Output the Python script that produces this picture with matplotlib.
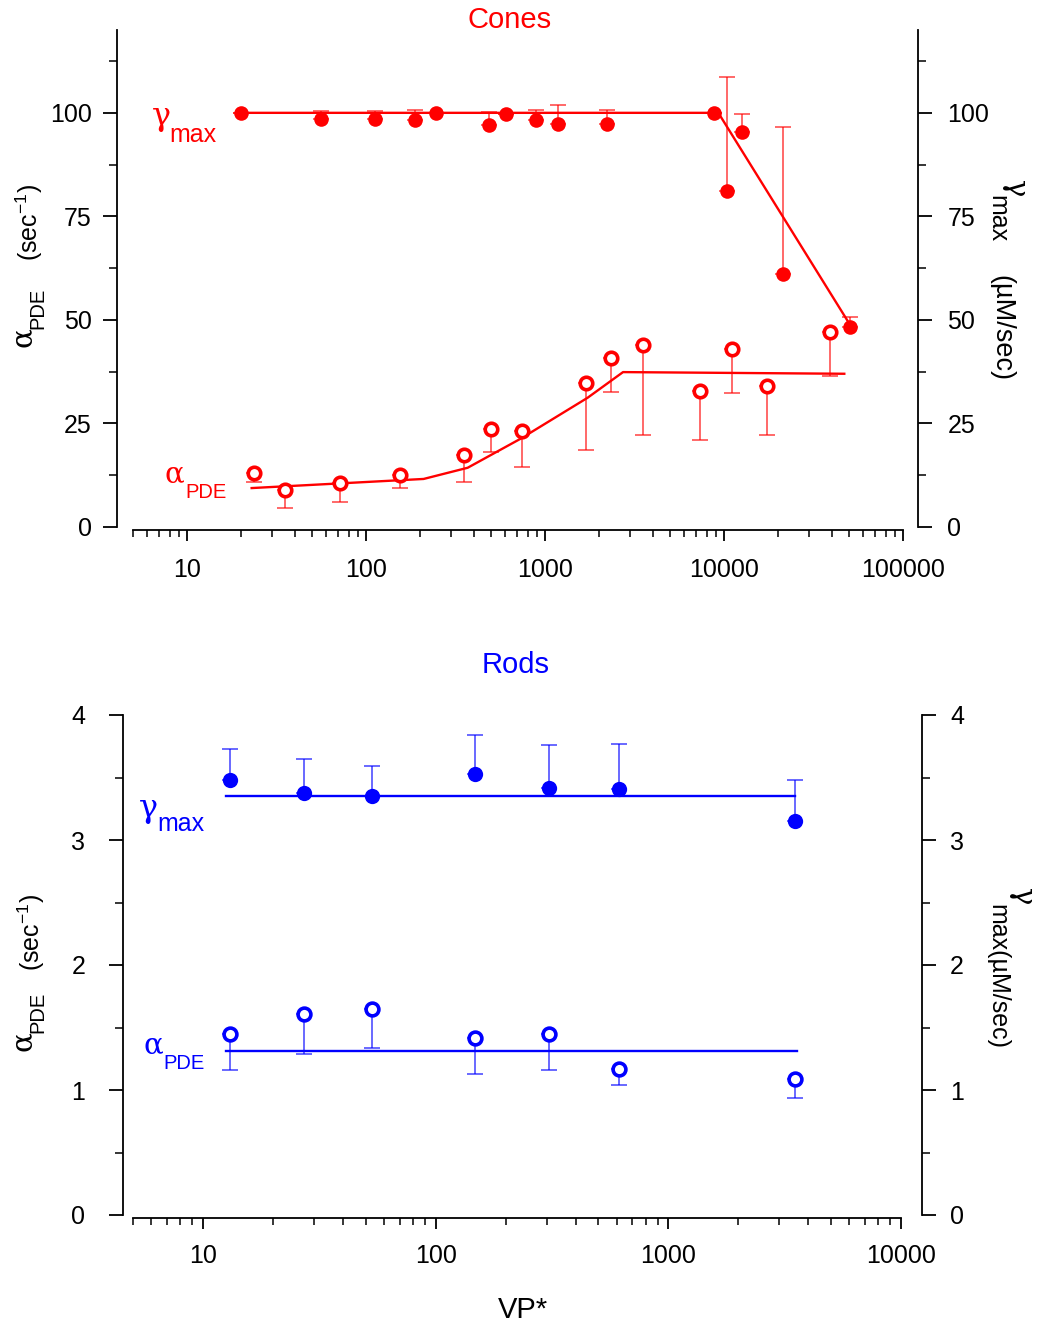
import numpy as np
import matplotlib
matplotlib.use("Agg")
import matplotlib.pyplot as plt
from matplotlib.ticker import LogLocator, NullFormatter, FixedLocator, FuncFormatter

plt.rcParams["font.family"] = ["Liberation Sans", "DejaVu Sans"]
plt.rcParams["mathtext.fontset"] = "custom"
plt.rcParams["mathtext.rm"] = "Liberation Sans"
plt.rcParams["mathtext.default"] = "regular"

GREEK_FONT = ["DejaVu Serif"]

# ---- Cones ----
cone_g_x = [20, 56, 112, 188, 246, 490, 603, 887, 1178, 2229, 8790, 10350, 12620, 21280, 50700]
cone_g_y = [100, 98.6, 98.6, 98.2, 100, 97.0, 99.6, 98.2, 97.4, 97.4, 100, 81.1, 95.4, 61.2, 48.2]
cone_g_err = [0, 1.9, 1.9, 2.5, 0, 3.3, 0, 2.5, 4.6, 3.3, 0, 27.5, 4.2, 35.5, 2.5]

cone_a_x = [23.8, 35.5, 71.5, 155, 351, 500, 746, 1706, 2334, 3530, 7380, 11140, 17500, 39000]
cone_a_y = [13.0, 9.0, 10.7, 12.5, 17.4, 23.7, 23.2, 34.8, 40.8, 43.9, 32.9, 42.9, 34.1, 47.0]
cone_a_err = [2.2, 4.4, 4.6, 3.2, 6.5, 5.6, 8.8, 16.3, 8.1, 21.6, 12.0, 10.5, 12.0, 10.5]

cone_g_fit_x = [20, 9300, 52000]
cone_g_fit_y = [100, 100, 48]
cone_a_fit_x = [23, 210, 370, 730, 1730, 2730, 47000]
cone_a_fit_y = [9.4, 11.6, 14.3, 21.3, 31.2, 37.4, 37.0]

# ---- Rods ----
rod_x = [13.06, 27.1, 53.2, 147.5, 307.8, 615, 3508]
rod_g_y = [3.48, 3.38, 3.35, 3.53, 3.42, 3.41, 3.15]
rod_g_err = [0.25, 0.27, 0.24, 0.31, 0.34, 0.36, 0.33]
rod_a_y = [1.45, 1.61, 1.65, 1.42, 1.45, 1.17, 1.09]
rod_a_err = [0.29, 0.32, 0.31, 0.29, 0.29, 0.13, 0.15]

rod_g_fit_x = [12.5, 3508]
rod_g_fit_y = [3.355, 3.355]
rod_a_fit_x = [12.5, 3560]
rod_a_fit_y = [1.315, 1.315]

W, H = 1043, 1332
fig = plt.figure(figsize=(W / 100, H / 100), dpi=100)

RED = "#ff0000"
BLUE = "#0000ff"
TICK_FS = 18
PX = 0.72  # points per pixel at 100 dpi


def fx(x):
    return x / W


def fy(y):
    return 1 - y / H


def px_axes(x0, x1, y_top, y_bot):
    return fig.add_axes([x0 / W, 1 - y_bot / H, (x1 - x0) / W, (y_bot - y_top) / H])


def build_panel(x0, x1, y_top, y_bot, xlim, ylim, ymaj, ymin,
                left_out, right_out, bottom_out, pad_l, pad_r, pad_x):
    ax = px_axes(x0, x1, y_top, y_bot)
    ax.set_xscale("log")
    ax.set_xlim(*xlim)
    ax.set_ylim(*ylim)
    axr = ax.twinx()
    axr.set_ylim(*ylim)
    for a in (ax, axr):
        a.yaxis.set_major_locator(FixedLocator(ymaj))
        a.yaxis.set_minor_locator(FixedLocator(ymin))
        a.yaxis.set_major_formatter(FuncFormatter(lambda v, p: f"{v:g}"))
        a.spines["top"].set_visible(False)
        for s in a.spines.values():
            s.set_linewidth(1.3)
    ax.spines["right"].set_visible(False)
    axr.spines["left"].set_visible(False)
    axr.spines["bottom"].set_visible(False)
    ax.spines["left"].set_position(("outward", left_out * PX))
    axr.spines["right"].set_position(("outward", right_out * PX))
    ax.spines["bottom"].set_position(("outward", bottom_out * PX))

    ax.xaxis.set_major_locator(LogLocator(base=10, numticks=20))
    ax.xaxis.set_minor_locator(LogLocator(base=10, subs=np.arange(2, 10), numticks=20))
    ax.xaxis.set_minor_formatter(NullFormatter())
    ax.xaxis.set_major_formatter(FuncFormatter(lambda v, p: f"{v:.0f}"))
    ax.tick_params(axis="x", which="major", direction="out", length=11 * PX, width=1.3,
                   labelsize=TICK_FS, pad=pad_x)
    ax.tick_params(axis="x", which="minor", direction="out", length=7 * PX, width=1.1)
    ax.tick_params(axis="y", which="major", direction="out", length=14 * PX, width=1.3,
                   labelsize=TICK_FS, pad=pad_l)
    ax.tick_params(axis="y", which="minor", direction="out", length=8 * PX, width=1.1)
    axr.tick_params(axis="y", which="major", direction="out", length=14 * PX, width=1.3,
                    labelsize=TICK_FS, pad=pad_r)
    axr.tick_params(axis="y", which="minor", direction="out", length=8 * PX, width=1.1)
    axr.set_zorder(ax.get_zorder() - 1)
    ax.patch.set_visible(False)
    return ax


def draw_series(ax, color, xs, gy, gerr, ay, aerr, gfx, gfy, afx, afy,
                ms_fill, ms_open):
    ax.plot(gfx, gfy, color=color, lw=1.7, zorder=2)
    ax.plot(afx, afy, color=color, lw=1.7, zorder=2)
    ax.errorbar(xs[0], gy, yerr=[np.zeros(len(gerr)), gerr], fmt="none",
                ecolor=color, elinewidth=1.1, capsize=5.5, capthick=1.1, alpha=0.75, zorder=3)
    ax.errorbar(xs[1], ay, yerr=[aerr, np.zeros(len(aerr))], fmt="none",
                ecolor=color, elinewidth=1.1, capsize=5.5, capthick=1.1, alpha=0.75, zorder=3)
    ax.plot(xs[0], gy, "o", color=color, ms=ms_fill, mew=0, zorder=4, clip_on=False)
    ax.plot(xs[1], ay, "o", mfc="white", mec=color, mew=2.6, ms=ms_open, zorder=4,
            clip_on=False)


def greek(x, y, ch, size, color="black", rot=0):
    fig.text(fx(x), fy(y), ch, fontsize=size, family=GREEK_FONT, color=color,
             rotation=rot, ha="center", va="center")


def sub_text(x, y, s, size, color="black", rot=0, ha="left", va="baseline"):
    fig.text(fx(x), fy(y), s, fontsize=size, color=color, rotation=rot, ha=ha, va=va)


# ===================== Cones panel =====================
ax1 = build_panel(133, 903, 30, 527, (5, 100000), (0, 120),
                  [0, 25, 50, 75, 100], [12.5, 37.5, 62.5, 87.5, 112.5],
                  16, 15, 3, 8, 11, 12)
draw_series(ax1, RED, (cone_g_x, cone_a_x), cone_g_y, cone_g_err, cone_a_y, cone_a_err,
            cone_g_fit_x, cone_g_fit_y, cone_a_fit_x, cone_a_fit_y, 10.5, 9.0)

fig.text(fx(510), fy(20), "Cones", color=RED, fontsize=21, ha="center", va="center")
greek(161, 117, "\u03b3", 23, RED)
sub_text(169, 142, "max", 18, RED)
greek(174, 474, "\u03b1", 21, RED)
sub_text(185, 498, "PDE", 14.5, RED)

# left axis title
greek(23, 337, "\u03b1", 21, rot=90)
sub_text(38, 308, "PDE", 14.5, rot=90, ha="center", va="center")
sub_text(29, 222, r"(sec$^{-1}$)", 18, rot=90, ha="center", va="center")
# right axis title
greek(1015, 189, "\u03b3", 21, rot=270)
sub_text(997, 219, "max", 18, rot=270, ha="center", va="center")
sub_text(1001, 328, "(\u00b5M/sec)", 19.5, rot=270, ha="center", va="center")

# ===================== Rods panel =====================
ax2 = build_panel(133, 901, 715, 1215, (5, 10000), (0, 4),
                  [0, 1, 2, 3, 4], [0.5, 1.5, 2.5, 3.5],
                  10, 21, 3, 17, 10, 11)
draw_series(ax2, BLUE, (rod_x, rod_x), rod_g_y, rod_g_err, rod_a_y, rod_a_err,
            rod_g_fit_x, rod_g_fit_y, rod_a_fit_x, rod_a_fit_y, 11, 9.2)

fig.text(fx(516), fy(665), "Rods", color=BLUE, fontsize=21, ha="center", va="center")
greek(148, 808, "\u03b3", 23, BLUE)
sub_text(157, 831, "max", 18, BLUE)
greek(153, 1045, "\u03b1", 21, BLUE)
sub_text(163, 1069, "PDE", 14.5, BLUE)

greek(23, 1041, "\u03b1", 21, rot=90)
sub_text(38, 1012, "PDE", 14.5, rot=90, ha="center", va="center")
sub_text(31, 932, r"(sec$^{-1}$)", 18, rot=90, ha="center", va="center")
greek(1022, 897, "\u03b3", 21, rot=270)
sub_text(997, 976, "max(\u00b5M/sec)", 18, rot=270, ha="center", va="center")

fig.text(fx(523), fy(1310), "VP*", fontsize=21, ha="center", va="center")

fig.savefig("out.png", dpi=100, facecolor="white")
